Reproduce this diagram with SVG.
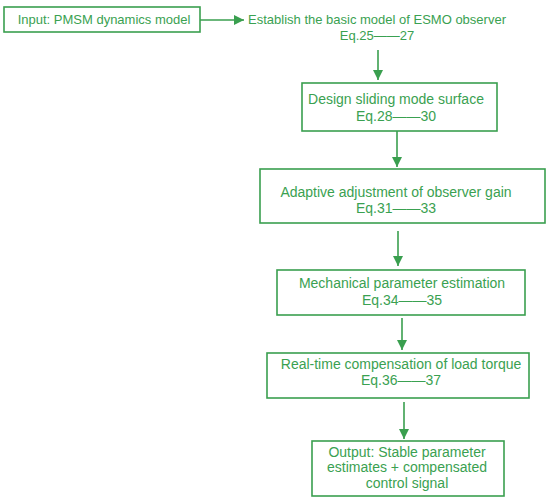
<svg xmlns="http://www.w3.org/2000/svg" width="550" height="501" viewBox="0 0 550 501">
<style>
.box{fill:#fff;stroke:#3a9f4f;stroke-width:1.6}
.t{font-family:"Liberation Sans",Arial,sans-serif;font-size:14px;fill:#3aa151;text-anchor:middle}
.s{font-size:13px}
.c{stroke:#3a9f4f;stroke-width:1.6;fill:none}
</style>
<defs>
<marker id="ah" viewBox="0 0 10 10" refX="10" refY="5" markerWidth="6.5" markerHeight="6.5" orient="auto" markerUnits="strokeWidth">
<path d="M0,0 L10,5 L0,10 z" fill="#3a9f4f"/>
</marker>
</defs>
<rect width="550" height="501" fill="#fff"/>
<g id="connectors">
<line class="c" x1="197" y1="20" x2="244" y2="20" marker-end="url(#ah)"/>
<line class="c" x1="378" y1="50" x2="378" y2="80" marker-end="url(#ah)"/>
<line class="c" x1="397" y1="131" x2="397" y2="167" marker-end="url(#ah)"/>
<line class="c" x1="398" y1="231" x2="398" y2="266" marker-end="url(#ah)"/>
<line class="c" x1="402" y1="318" x2="402" y2="350" marker-end="url(#ah)"/>
<line class="c" x1="404" y1="402" x2="404" y2="439" marker-end="url(#ah)"/>
</g>
<g id="input">
<rect class="box" x="4" y="7" width="196" height="25"/>
<text class="t s" x="104" y="24">Input: PMSM dynamics model</text>
</g>
<g id="establish">
<text class="t s" x="377" y="24">Establish the basic model of ESMO observer</text>
<text class="t s" x="377" y="40">Eq.25——27</text>
</g>
<g id="design">
<rect class="box" x="302" y="83" width="195" height="48"/>
<text class="t" x="396" y="104">Design sliding mode surface</text>
<text class="t" x="396" y="121">Eq.28——30</text>
</g>
<g id="adaptive">
<rect class="box" x="260" y="169" width="285" height="54"/>
<text class="t" x="396" y="197">Adaptive adjustment of observer gain</text>
<text class="t" x="396" y="213">Eq.31——33</text>
</g>
<g id="mechanical">
<rect class="box" x="277" y="270" width="248" height="45"/>
<text class="t" x="402" y="288">Mechanical parameter estimation</text>
<text class="t" x="402" y="305">Eq.34——35</text>
</g>
<g id="realtime">
<rect class="box" x="267" y="353" width="262" height="45"/>
<text class="t" x="401" y="369">Real-time compensation of load torque</text>
<text class="t" x="401" y="385">Eq.36——37</text>
</g>
<g id="output">
<rect class="box" x="312" y="441" width="192" height="55"/>
<text class="t" x="407" y="457">Output: Stable parameter</text>
<text class="t" x="407" y="472">estimates + compensated</text>
<text class="t" x="407" y="488">control signal</text>
</g>
</svg>
